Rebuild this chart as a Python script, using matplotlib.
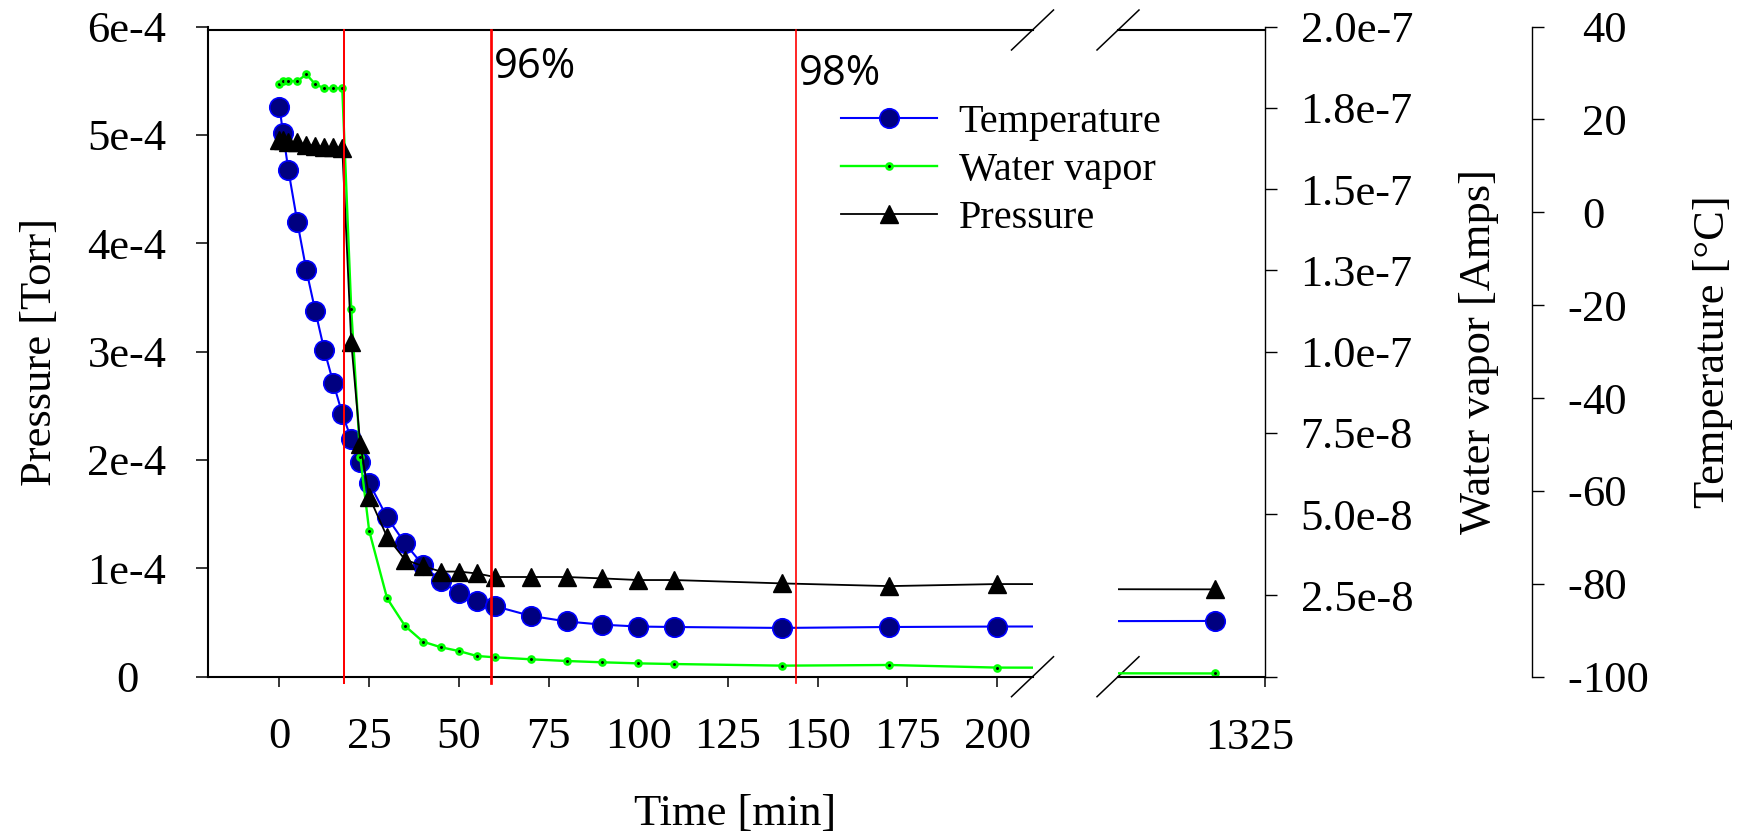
import matplotlib
matplotlib.use("Agg")
import matplotlib.pyplot as plt
from matplotlib.lines import Line2D
from matplotlib.transforms import offset_copy

# ---------------- data ----------------
time_min = [0, 1, 2.5, 5, 7.5, 10, 12.5, 15, 17.5, 20, 22.5, 25, 30, 35, 40, 45,
            50, 55, 60, 70, 80, 90, 100, 110, 140, 170, 200, 1311]
temperature_c = [22.7, 17.0, 9.0, -2.2, -12.5, -21.3, -29.7, -36.7, -43.4, -48.8,
                 -53.8, -58.3, -65.7, -71.3, -76.0, -79.4, -82.0, -83.6, -84.8,
                 -86.9, -88.1, -88.8, -89.2, -89.3, -89.5, -89.3, -89.2, -88.0]
water_vapor_amps = [1.822e-7, 1.832e-7, 1.832e-7, 1.832e-7, 1.853e-7, 1.822e-7,
                    1.810e-7, 1.810e-7, 1.810e-7, 1.131e-7, 6.77e-8, 4.49e-8,
                    2.41e-8, 1.56e-8, 1.078e-8, 9.05e-9, 7.9e-9, 6.37e-9, 5.97e-9,
                    5.36e-9, 4.83e-9, 4.43e-9, 4.10e-9, 3.90e-9, 3.40e-9, 3.60e-9,
                    2.80e-9, 1.0e-9]
pressure_torr = [4.95e-4, 4.95e-4, 4.93e-4, 4.93e-4, 4.91e-4, 4.90e-4, 4.89e-4,
                 4.89e-4, 4.88e-4, 3.09e-4, 2.15e-4, 1.66e-4, 1.29e-4, 1.08e-4,
                 1.02e-4, 0.97e-4, 0.97e-4, 0.953e-4, 0.92e-4, 0.92e-4, 0.92e-4,
                 0.907e-4, 0.892e-4, 0.892e-4, 0.861e-4, 0.836e-4, 0.855e-4, 0.806e-4]

series_names = ["Temperature", "Water vapor", "Pressure"]

marker_lines_min = [18, 59, 144]
percent_text_min = [59, 144]
percent_texts = ["96%", "98%"]

time_ticks = [0, 25, 50, 75, 100, 125, 150, 175, 200]
time_ticklabels = ["0", "25", "50", "75", "100", "125", "150", "175", "200"]
break_ticks = [1325]
break_ticklabels = ["1325"]
pressure_ticks = [0, 1e-4, 2e-4, 3e-4, 4e-4, 5e-4, 6e-4]
pressure_ticklabels = ["0", "1e-4", "2e-4", "3e-4", "4e-4", "5e-4", "6e-4"]
vapor_ticks = [0, 2.5e-8, 5.0e-8, 7.5e-8, 1.0e-7, 1.25e-7, 1.5e-7, 1.75e-7, 2.0e-7]
vapor_ticklabels = ["", "2.5e-8", "5.0e-8", "7.5e-8", "1.0e-7", "1.3e-7",
                    "1.5e-7", "1.8e-7", "2.0e-7"]
temp_ticks = [-100, -80, -60, -40, -20, 0, 20, 40]

# ---------------- layout ----------------
plt.rcParams["font.family"] = ["Liberation Serif", "DejaVu Serif"]
W, H = 1742, 834
fig = plt.figure(figsize=(W / 100, H / 100), dpi=100)
fig.patch.set_facecolor("white")


def fx(px):
    return px / W


def fy(py):
    return 1 - py / H


left1, right1 = 207.7, 1033.0
left2, right2 = 1117.5, 1265.0
top, bottom = 26.5, 676.7
frame_top = 30.0
temp_spine_x = 1531.7

ax1 = fig.add_axes([fx(left1), fy(bottom), (right1 - left1) / W, (bottom - top) / H])
ax2 = fig.add_axes([fx(left2), fy(bottom), (right2 - left2) / W, (bottom - top) / H])

TFS = 32
BLUE, NAVY, GREEN, RED = "#0000FF", "#000080", "#00FF00", "#FF0000"
top_frac = (bottom - frame_top) / (bottom - top)

temp_style = dict(color=BLUE, lw=1.5, marker="o", ms=14, mfc=NAVY, mec=BLUE, mew=1.2)
vapor_style = dict(color=GREEN, lw=1.7, marker="o", ms=4.2, mfc="black", mec=GREEN,
                   mew=2.0)
press_style = dict(color="black", lw=1.3, marker="^", ms=13, mfc="black", mec="black")

axes_sets = []
for ax, xl in ((ax1, (-20, 210)), (ax2, (1283.9, 1325))):
    axT = ax.twinx()
    axW = ax.twinx()
    axT.set_zorder(1)
    axW.set_zorder(2)
    ax.set_zorder(3)
    for a in (ax, axT, axW):
        a.patch.set_visible(False)
        for s in a.spines.values():
            s.set_visible(False)
    axT.plot(time_min, temperature_c, **temp_style)
    axW.plot(time_min, water_vapor_amps, **vapor_style)
    ax.plot(time_min, pressure_torr, zorder=3, **press_style)
    ax.set_xlim(*xl)
    ax.set_ylim(0, 6e-4)
    axW.set_ylim(0, 2e-7)
    axT.set_ylim(-100, 40)
    for a in (axT, axW):
        a.tick_params(left=False, right=False, labelleft=False, labelright=False)
    ax.spines["bottom"].set_visible(True)
    ax.spines["bottom"].set_linewidth(1.5)
    ax.spines["top"].set_visible(True)
    ax.spines["top"].set_linewidth(1.5)
    ax.spines["top"].set_position(("axes", top_frac))
    ax.tick_params(axis="x", direction="out", length=7.2, width=1.1,
                   labelsize=TFS, pad=22, top=False)
    axes_sets.append((ax, axT, axW))

(ax1, ax1T, ax1W), (ax2, ax2T, ax2W) = axes_sets

# left segment: pressure axis
ax1.spines["left"].set_visible(True)
ax1.spines["left"].set_linewidth(1.5)
ax1.set_xticks(time_ticks)
ax1.set_xticklabels(time_ticklabels)
ax1.set_yticks(pressure_ticks)
ax1.set_yticklabels(pressure_ticklabels)
ax1.tick_params(axis="y", direction="out", length=8.6, width=1.1,
                labelsize=TFS, pad=49.5)
for lab in ax1.get_yticklabels():
    lab.set_horizontalalignment("center")

# right segment
ax2.tick_params(axis="y", left=False, labelleft=False)
ax2.set_xticks(break_ticks)
ax2.set_xticklabels([""])
ax2.text(break_ticks[0], 0, break_ticklabels[0], fontsize=TFS, ha="center", va="top",
         transform=offset_copy(ax2.get_xaxis_transform(), fig=fig, x=-15, y=-41,
                               units="dots"))

ax2W.spines["right"].set_visible(True)
ax2W.spines["right"].set_linewidth(1.0)
ax2W.set_yticks(vapor_ticks)
ax2W.set_yticklabels(vapor_ticklabels)
ax2W.tick_params(axis="y", right=True, labelright=True, direction="out",
                 length=8.6, width=1.0, labelsize=TFS, pad=17)

ax2T.spines["right"].set_visible(True)
ax2T.spines["right"].set_linewidth(1.0)
ax2T.spines["right"].set_position(("axes", (temp_spine_x - left2) / (right2 - left2)))
ax2T.set_yticks(temp_ticks)
ax2T.tick_params(axis="y", right=True, labelright=False, direction="out",
                 length=8.6, width=1.0)
ttrans = offset_copy(ax2T.get_yaxis_transform(), fig=fig, x=1582 - right2, y=0,
                     units="dots")
for v in temp_ticks:
    ax2T.text(1.0, v, str(abs(v)), transform=ttrans, ha="left",
              va="center_baseline", fontsize=TFS, clip_on=False)
    if v < 0:
        ax2T.text(1.0, v, "-", transform=ttrans, ha="right",
                  va="center_baseline", fontsize=TFS, clip_on=False)

# vertical red marker lines
red_widths = [1.44, 1.95, 1.2]
ybot = -6 / (bottom - top)
for xm, lw in zip(marker_lines_min, red_widths):
    ax1.axvline(xm, ymin=ybot, ymax=top_frac, color=RED, lw=lw, zorder=6,
                clip_on=False)

pct_y = [(bottom - 78) / (bottom - top), (bottom - 85) / (bottom - top)]
for xm, txt, yy in zip(percent_text_min, percent_texts, pct_y):
    ax1.text(xm, yy, txt, fontsize=30, family=["Open Sans", "DejaVu Sans"],
             ha="left", va="baseline",
             transform=offset_copy(ax1.get_xaxis_transform(), fig=fig, x=3, y=0,
                                   units="dots"))

# legend
handles = [Line2D([], [], **temp_style), Line2D([], [], **vapor_style),
           Line2D([], [], **press_style)]
leg = ax1.legend(handles, series_names, loc="upper left",
                 bbox_to_anchor=(fx(840.7), fy(103.5)), bbox_transform=fig.transFigure,
                 frameon=False, borderpad=0, borderaxespad=0, fontsize=29,
                 handlelength=2.38, handletextpad=0.55, labelspacing=0.27,
                 numpoints=1)
leg.set_zorder(10)

# axis break marks
for cx in (1032.5, 1118.0):
    for cy in (frame_top, bottom):
        fig.add_artist(Line2D([fx(cx - 21), fx(cx + 21)], [fy(cy + 20), fy(cy - 20)],
                              transform=fig.transFigure, color="black", lw=1.1))

# axis titles
fig.text(fx(40), fy(351.6), "Pressure [Torr]", rotation=90, ha="center",
         va="center", fontsize=TFS)
fig.text(fx(1479), fy(351.6), "Water vapor [Amps]", rotation=90, ha="center",
         va="center", fontsize=TFS)
fig.text(fx(1713), fy(351.6), "Temperature [°C]", rotation=90, ha="center",
         va="center", fontsize=TFS)
fig.text(fx(735), fy(825), "Time [min]", ha="center", va="baseline", fontsize=TFS)

fig.savefig("out.png", dpi=100)
